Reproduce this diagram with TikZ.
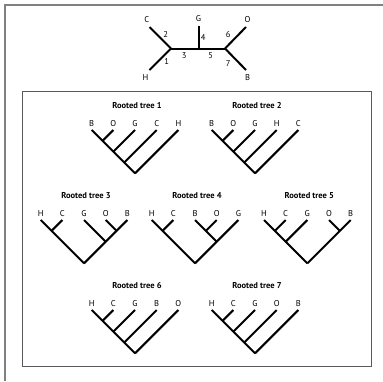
\documentclass[tikz,border=0pt]{standalone}
\usepackage{fontspec}
\setmainfont{PT Sans}
\usetikzlibrary{calc}
\tikzset{
  edge/.style={line width=2pt, line cap=butt},
  leaflab/.style={font=\fontsize{8.5}{9}\selectfont, inner sep=0pt, anchor=south},
  numlab/.style={font=\fontsize{8.5}{9}\selectfont, inner sep=0pt},
  titlelab/.style={font=\fontsize{8.5}{10}\selectfont\bfseries, inner sep=0pt},
  frameline/.style={draw=black!50, line width=1.5pt},
  boxline/.style={draw=black!65, line width=1pt},
}
% u = leaf spacing
\def\U{21.67}
% \treeleaves{prefix}{X0}{Y0}{L0}{L1}{L2}{L3}{L4}{title}
\newcommand\treeleaves[9]{%
  \foreach \i/\lab in {0/#4,1/#5,2/#6,3/#7,4/#8}{
    \coordinate (#1-\i) at ({#2+\i*\U},#3);
    \node[leaflab] (#1-lab\i) at ({#2+\i*\U},{#3-3.5}) {\lab};
  }
  \node[titlelab] (#1-title) at ({#2+2*\U+2},{#3-24.5}) {#9};
  \coordinate (#1-root) at ({#2+2*\U},{#3+2*\U});
}
\newcommand\clade[5]{% name X0 Y0 midindex halfspan
  \coordinate (#1) at ({#2+#4*\U},{#3+#5*\U});
}
\begin{document}
\begin{tikzpicture}[x=1pt,y=-1pt]
\useasboundingbox (0,0) rectangle (383,381);
% frames
\draw[frameline] (5,381) -- (5,5) -- (383,5);
\draw[boxline] (22,91) rectangle (371,366);

% unrooted tree
\coordinate (J1) at (171,48.5);
\coordinate (J2) at (225,48.5);
\coordinate (Jg) at (199,48.5);
\coordinate (eC) at (149.5,27);
\coordinate (eH) at (149.5,70);
\coordinate (eG) at (199,26);
\coordinate (eO) at (246,27);
\coordinate (eB) at (246,70);
\draw[edge] (eC) -- (J1);
\draw[edge] (eH) -- (J1);
\draw[edge] (J1) -- (J2);
\draw[edge] (eG) -- (Jg);
\draw[edge] (eO) -- (J2);
\draw[edge] (eB) -- (J2);
\node[numlab] (tC) at (146.7,20) {C};
\node[numlab] (tH) at (145.5,77.5) {H};
\node[numlab] (tG) at (198.5,19) {G};
\node[numlab] (tO) at (247.5,20) {O};
\node[numlab] (tB) at (247.5,77.5) {B};
\node[numlab] (n1) at (166.7,61.7) {1};
\node[numlab] (n2) at (165.7,34.3) {2};
\node[numlab] (n3) at (184.3,56) {3};
\node[numlab] (n4) at (203.3,37.7) {4};
\node[numlab] (n5) at (210.7,56) {5};
\node[numlab] (n6) at (228.3,34.3) {6};
\node[numlab] (n7) at (228.3,63.3) {7};

% Rooted tree 1: ((((B,O),G),C),H)
\treeleaves{a}{91.7}{130}{B}{O}{G}{C}{H}{Rooted tree 1}
\clade{a-n1}{91.7}{130}{0.5}{0.5}
\clade{a-n2}{91.7}{130}{1}{1}
\clade{a-n3}{91.7}{130}{1.5}{1.5}
\draw[edge] (a-0) -- (a-root);
\draw[edge] (a-1) -- (a-n1);
\draw[edge] (a-2) -- (a-n2);
\draw[edge] (a-3) -- (a-n3);
\draw[edge] (a-4) -- (a-root);

% Rooted tree 2: ((((B,O),G),H),C)
\treeleaves{b}{211.7}{130}{B}{O}{G}{H}{C}{Rooted tree 2}
\clade{b-n1}{211.7}{130}{0.5}{0.5}
\clade{b-n2}{211.7}{130}{1}{1}
\clade{b-n3}{211.7}{130}{1.5}{1.5}
\draw[edge] (b-0) -- (b-root);
\draw[edge] (b-1) -- (b-n1);
\draw[edge] (b-2) -- (b-n2);
\draw[edge] (b-3) -- (b-n3);
\draw[edge] (b-4) -- (b-root);

% Rooted tree 3: ((H,C),(G,(O,B)))
\treeleaves{c}{40.7}{220}{H}{C}{G}{O}{B}{Rooted tree 3}
\clade{c-hc}{40.7}{220}{0.5}{0.5}
\clade{c-ob}{40.7}{220}{3.5}{0.5}
\clade{c-gob}{40.7}{220}{3}{1}
\draw[edge] (c-0) -- (c-root);
\draw[edge] (c-1) -- (c-hc);
\draw[edge] (c-4) -- (c-root);
\draw[edge] (c-2) -- (c-gob);
\draw[edge] (c-3) -- (c-ob);

% Rooted tree 4: ((H,C),((B,O),G))
\treeleaves{d}{151.7}{220}{H}{C}{B}{O}{G}{Rooted tree 4}
\clade{d-hc}{151.7}{220}{0.5}{0.5}
\clade{d-bo}{151.7}{220}{2.5}{0.5}
\clade{d-bog}{151.7}{220}{3}{1}
\draw[edge] (d-0) -- (d-root);
\draw[edge] (d-1) -- (d-hc);
\draw[edge] (d-4) -- (d-root);
\draw[edge] (d-2) -- (d-bog);
\draw[edge] (d-3) -- (d-bo);

% Rooted tree 5: (((H,C),G),(O,B))
\treeleaves{e}{264}{220}{H}{C}{G}{O}{B}{Rooted tree 5}
\clade{e-hc}{264}{220}{0.5}{0.5}
\clade{e-hcg}{264}{220}{1}{1}
\clade{e-ob}{264}{220}{3.5}{0.5}
\draw[edge] (e-0) -- (e-root);
\draw[edge] (e-1) -- (e-hc);
\draw[edge] (e-2) -- (e-hcg);
\draw[edge] (e-3) -- (e-ob);
\draw[edge] (e-4) -- (e-root);

% Rooted tree 6: ((((H,C),G),B),O)
\treeleaves{f}{91.7}{310}{H}{C}{G}{B}{O}{Rooted tree 6}
\clade{f-n1}{91.7}{310}{0.5}{0.5}
\clade{f-n2}{91.7}{310}{1}{1}
\clade{f-n3}{91.7}{310}{1.5}{1.5}
\draw[edge] (f-0) -- (f-root);
\draw[edge] (f-1) -- (f-n1);
\draw[edge] (f-2) -- (f-n2);
\draw[edge] (f-3) -- (f-n3);
\draw[edge] (f-4) -- (f-root);

% Rooted tree 7: ((((H,C),G),O),B)
\treeleaves{g}{211.7}{310}{H}{C}{G}{O}{B}{Rooted tree 7}
\clade{g-n1}{211.7}{310}{0.5}{0.5}
\clade{g-n2}{211.7}{310}{1}{1}
\clade{g-n3}{211.7}{310}{1.5}{1.5}
\draw[edge] (g-0) -- (g-root);
\draw[edge] (g-1) -- (g-n1);
\draw[edge] (g-2) -- (g-n2);
\draw[edge] (g-3) -- (g-n3);
\draw[edge] (g-4) -- (g-root);
\end{tikzpicture}
\end{document}
